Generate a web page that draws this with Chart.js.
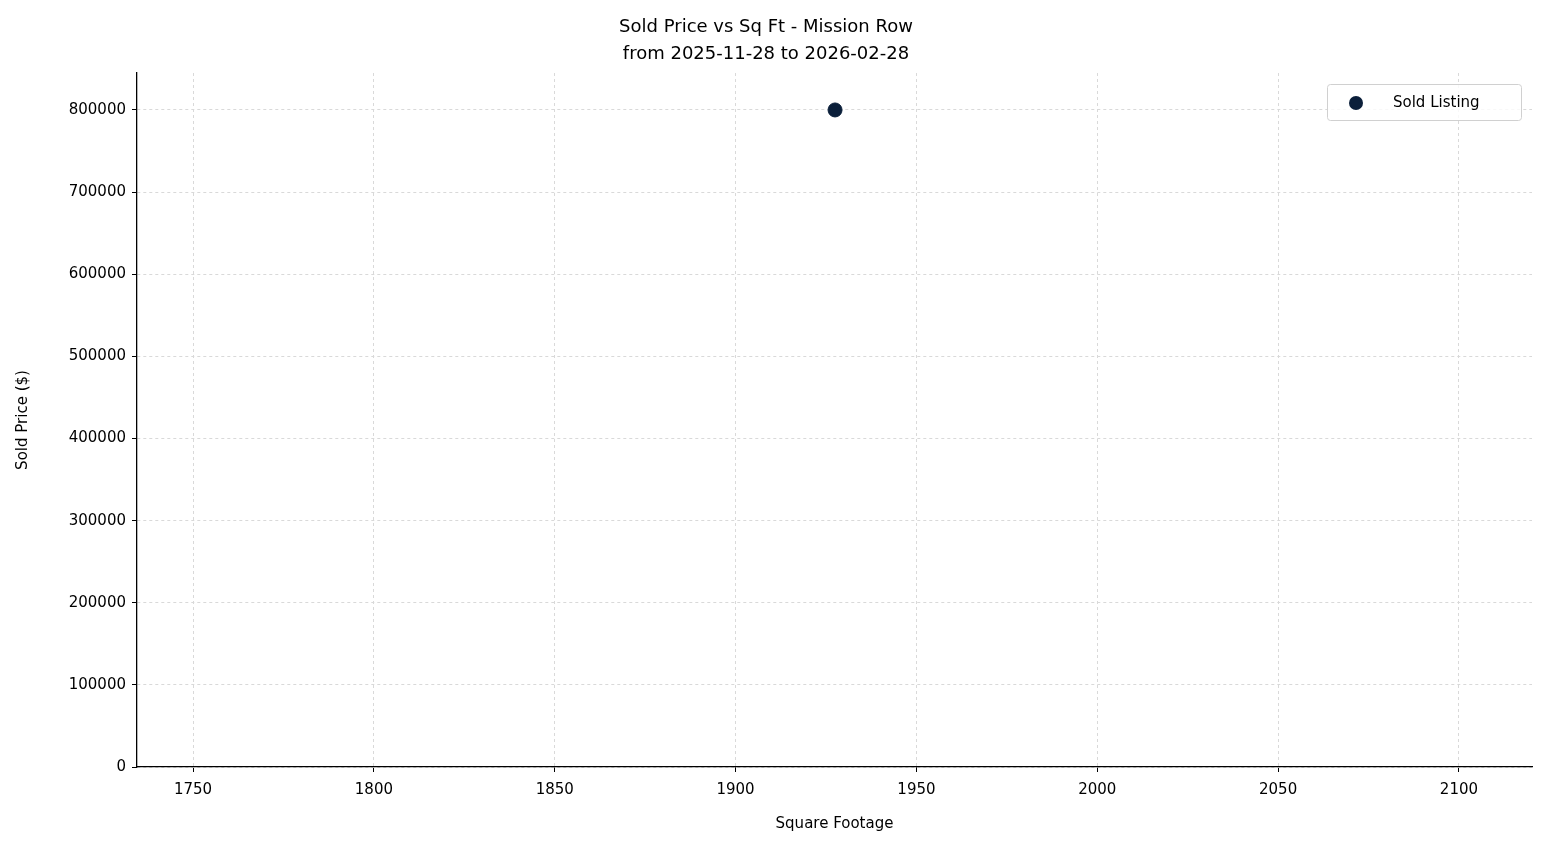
<!DOCTYPE html>
<html><head><meta charset="utf-8">
<script src="https://cdn.jsdelivr.net/npm/chart.js@4/dist/chart.umd.min.js"></script>
<style>html,body{margin:0;padding:0;background:#fff}#w{width:1547px;height:845px}</style>
</head><body><div id="w"><canvas id="c"></canvas></div>
<script>
const sqft = [1927.5];
const soldPrice = [800000];
const seriesLabel = 'Sold Listing';
const titleLines = ['Sold Price vs Sq Ft - Mission Row', 'from 2025-11-28 to 2026-02-28'];
const xLabel = 'Square Footage';
const yLabel = 'Sold Price ($)';
const xTicks = [1750, 1800, 1850, 1900, 1950, 2000, 2050, 2100];
const yTicks = [0, 100000, 200000, 300000, 400000, 500000, 600000, 700000, 800000];
const pointColor = '#0b1f3a';
const font = "'DejaVu Sans', sans-serif";

const legendBox = {
  id: 'legendBox',
  afterDraw(chart) {
    const ctx = chart.ctx, a = chart.chartArea;
    const x = a.right - 205, y = a.top + 11, w = 194, h = 36;
    ctx.save();
    ctx.fillStyle = 'rgba(255,255,255,0.8)';
    ctx.strokeStyle = '#d0d0d0';
    ctx.lineWidth = 1;
    ctx.beginPath(); ctx.roundRect(x + 0.5, y + 0.5, w, h, 3); ctx.fill(); ctx.stroke();
    ctx.fillStyle = pointColor;
    ctx.beginPath(); ctx.arc(x + 29, y + 19, 7, 0, Math.PI * 2); ctx.fill();
    ctx.fillStyle = '#000';
    ctx.font = '15px ' + font;
    ctx.textBaseline = 'middle';
    ctx.fillText(chart.data.datasets[0].label, x + 66, y + 19);
    ctx.restore();
  }
};

new Chart(document.getElementById('c'), {
  type: 'scatter',
  data: { datasets: [{ label: seriesLabel, data: sqft.map((v, i) => ({ x: v, y: soldPrice[i] })),
    backgroundColor: pointColor, borderColor: pointColor, pointRadius: 7, pointHoverRadius: 7 }] },
  options: {
    responsive: true, maintainAspectRatio: false, animation: false,
    layout: { padding: { left: 0, right: 15, top: 0, bottom: 0 } },
    plugins: {
      legend: { display: false }, tooltip: { enabled: false },
      title: { display: true, text: titleLines, color: '#000', font: { family: font, size: 18, weight: 'normal', lineHeight: 1.5 }, padding: { top: 14, bottom: 5 } }
    },
    scales: {
      x: {
        type: 'linear', min: 1734.5, max: 2120.2,
        afterBuildTicks: s => { s.ticks = xTicks.map(v => ({ value: v })); },
        afterFit: s => { s.height = 78; },
        ticks: { color: '#000', font: { family: font, size: 15 }, padding: 9, autoSkip: false, maxRotation: 0, callback: v => String(v) },
        grid: { color: '#d9d9d9', tickColor: '#000', tickLength: 5 },
        border: { display: true, color: '#000', width: 1.3, dash: [3, 3] },
        title: { display: true, text: xLabel, color: '#000', font: { family: font, size: 15 }, padding: { top: 0, bottom: 12 } }
      },
      y: {
        type: 'linear', min: 0, max: 845000,
        afterBuildTicks: s => { s.ticks = yTicks.map(v => ({ value: v })); },
        afterFit: s => { s.width = 137; },
        ticks: { color: '#000', font: { family: font, size: 15 }, padding: 6, autoSkip: false, callback: v => String(v) },
        grid: { color: '#d9d9d9', tickColor: '#000', tickLength: 5 },
        border: { display: true, color: '#000', width: 1.3, dash: [3, 3] },
        title: { display: true, text: yLabel, color: '#000', font: { family: font, size: 15 }, padding: { top: 14, bottom: 0 } }
      }
    }
  },
  plugins: [legendBox]
});
</script></body></html>
